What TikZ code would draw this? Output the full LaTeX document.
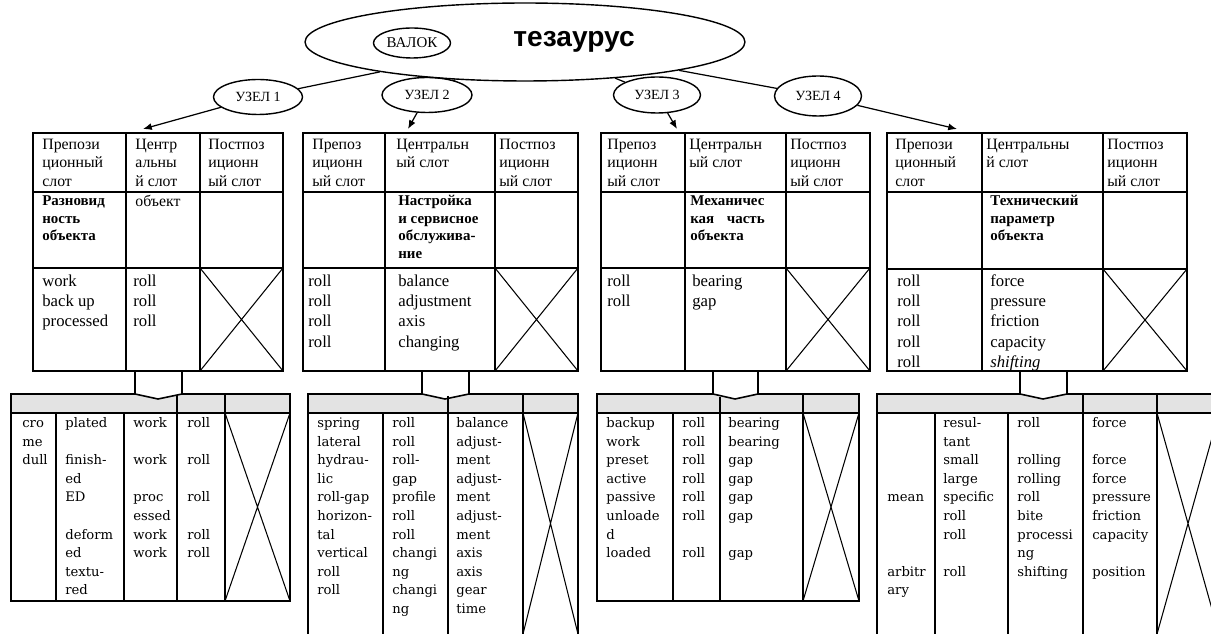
\documentclass[tikz,border=0pt]{standalone}
\usepackage{fontspec}
\setmainfont{Liberation Serif}
\newfontfamily\slabfont{DejaVu Serif}
\newfontfamily\headfont{Liberation Sans}
\usetikzlibrary{arrows.meta, shapes.geometric}
\tikzset{
    topic/.style={
        draw,
        ellipse,
        inner sep=0pt,
        line width=0.8pt,
        font=\fontsize{8}{9}\selectfont
    },
    slothead/.style={anchor=north west, inner sep=0pt, align=left, font=\fontsize{9}{10.5}\selectfont},
    slotbold/.style={anchor=north west, inner sep=0pt, align=left, font=\bfseries\fontsize{8.5}{10}\selectfont},
    slotword/.style={anchor=north west, inner sep=0pt, align=left, font=\fontsize{9.5}{11.5}\selectfont},
    lowword/.style={anchor=north west, inner sep=0pt, align=left, font=\slabfont\fontsize{7.5}{10.6}\selectfont},
    tabline/.style={line width=0.9pt},
    crossline/.style={line width=0.6pt},
    line/.style={-{Latex[length=5pt,width=4pt]}, line width=0.7pt},
    link/.style={line width=0.7pt}
}

\begin{document}
\begin{tikzpicture}[x=0.02cm, y=-0.02cm]
\useasboundingbox (0,0) rectangle (1211,634);
\clip (0,0) rectangle (1211,634);

% thesaurus
\node[topic, minimum width=8.8cm, minimum height=1.56cm] (thes) at (525,42) {};
\node[font=\headfont\bfseries\fontsize{16}{19}\selectfont, anchor=base, inner sep=0pt] (thesl) at (574,47) {тезаурус};
\node[topic, minimum width=1.54cm, minimum height=0.6cm, font=\fontsize{8.5}{10}\selectfont] (valok) at (412,43) {ВАЛОК};

\node[topic, minimum width=1.78cm, minimum height=0.7cm] (uz1) at (258,97) {УЗЕЛ 1};
\node[topic, minimum width=1.8cm, minimum height=0.7cm] (uz2) at (427,95) {УЗЕЛ 2};
\node[topic, minimum width=1.74cm, minimum height=0.72cm] (uz3) at (657,95) {УЗЕЛ 3};
\node[topic, minimum width=1.74cm, minimum height=0.8cm] (uz4) at (818,96) {УЗЕЛ 4};

\draw[link] (thes) -- (uz1);
\draw[link] (thes) -- (uz2);
\draw[link] (thes) -- (uz3);
\draw[link] (thes) -- (uz4);

\coordinate (t1in) at (143,129);
\coordinate (t2in) at (408,129);
\coordinate (t3in) at (677,129);
\coordinate (t4in) at (957,129);

\draw[line] (uz1) -- (t1in);
\draw[line] (uz2) -- (t2in);
\draw[line] (uz3) -- (t3in);
\draw[line] (uz4) -- (t4in);

% upper tables
\draw[tabline] (33,133) rectangle (283,371);
\draw[tabline] (126,133) -- (126,371) (200,133) -- (200,371);
\draw[tabline] (33,192) -- (283,192) (33,268) -- (283,268);
\draw[crossline] (200,268) -- (283,371) (283,268) -- (200,371);

\draw[tabline] (303,133) rectangle (578,371);
\draw[tabline] (385,133) -- (385,371) (495,133) -- (495,371);
\draw[tabline] (303,192) -- (578,192) (303,268) -- (578,268);
\draw[crossline] (495,268) -- (578,371) (578,268) -- (495,371);

\draw[tabline] (601,133) rectangle (870,371);
\draw[tabline] (685,133) -- (685,371) (786,133) -- (786,371);
\draw[tabline] (601,192) -- (870,192) (601,268) -- (870,268);
\draw[crossline] (786,268) -- (870,371) (870,268) -- (786,371);

\draw[tabline] (887,133) rectangle (1187,371);
\draw[tabline] (982,133) -- (982,371) (1103,133) -- (1103,371);
\draw[tabline] (887,192) -- (1187,192) (887,269) -- (1187,269);
\draw[crossline] (1103,269) -- (1187,371) (1187,269) -- (1103,371);

\node[slothead] (h11) at (42,136) {\strut Препози\\ционный\\слот};
\node[slothead] (h12) at (135,136) {\strut Центр\\альны\\й слот};
\node[slothead] (h13) at (208,136) {\strut Постпоз\\иционн\\ый слот};
\node[slotbold] (s11) at (42,193) {\strut Разновид\\ность\\объекта};
\node[slothead] (s12) at (135,193) {\strut объект};
\node[slotword] (w11) at (42,272) {\strut work\\back up\\processed};
\node[slotword] (w12) at (133,272) {\strut roll\\roll\\roll};

\node[slothead] (h21) at (312,136) {\strut Препоз\\иционн\\ый слот};
\node[slothead] (h22) at (396,136) {\strut Центральн\\ый слот};
\node[slothead] (h23) at (499,136) {\strut Постпоз\\иционн\\ый слот};
\node[slotbold] (s22) at (398,193) {\strut Настройка\\и сервисное\\обслужива-\\ние};
\node[slotword] (w21) at (308,272) {\strut roll\\roll\\roll\\roll};
\node[slotword] (w22) at (398,272) {\strut balance\\adjustment\\axis\\changing};

\node[slothead] (h31) at (607,136) {\strut Препоз\\иционн\\ый слот};
\node[slothead] (h32) at (689,136) {\strut Центральн\\ый слот};
\node[slothead] (h33) at (790,136) {\strut Постпоз\\иционн\\ый слот};
\node[slotbold] (s32) at (690,193) {\strut Механичес\\кая\hspace{0.6em} часть\\объекта};
\node[slotword] (w31) at (607,272) {\strut roll\\roll};
\node[slotword] (w32) at (692,272) {\strut bearing\\gap};

\node[slothead] (h41) at (895,136) {\strut Препози\\ционный\\слот};
\node[slothead] (h42) at (986,136) {\strut Центральны\\й слот};
\node[slothead] (h43) at (1107,136) {\strut Постпоз\\иционн\\ый слот};
\node[slotbold] (s42) at (990,193) {\strut Технический\\параметр\\объекта};
\node[slotword] (w41) at (897,272) {\strut roll\\roll\\roll\\roll\\roll};
\node[slotword] (w42) at (990,272) {\strut force\\pressure\\friction\\capacity\\\textit{shifting}};

% lower tables
\fill[gray!22] (11,394) -- (135,394) -- (158,399) -- (182,394) -- (290,394) -- (290,413) -- (11,413) -- cycle;
\draw[tabline] (135,371) -- (135,394) -- (158,399) -- (182,394) -- (182,371);
\draw[tabline] (135,394) -- (11,394) -- (11,601) -- (290,601) -- (290,394) -- (182,394);
\draw[tabline] (11,413) -- (290,413);
\draw[tabline] (177,395) -- (177,601) (225,394) -- (225,601);
\draw[tabline] (56,413) -- (56,601) (124,413) -- (124,601);
\draw[crossline] (225,413) -- (290,601) (290,413) -- (225,601);

\fill[gray!22] (308,394) -- (422,394) -- (445,399) -- (469,394) -- (578,394) -- (578,413) -- (308,413) -- cycle;
\draw[tabline] (422,371) -- (422,394) -- (445,399) -- (469,394) -- (469,371);
\draw[tabline] (422,394) -- (308,394) -- (308,640) (578,640) -- (578,394) -- (469,394);
\draw[tabline] (308,413) -- (578,413);
\draw[tabline] (448,396) -- (448,640) (523,394) -- (523,640);
\draw[tabline] (383,413) -- (383,640);
\draw[crossline] (523,413) -- (578,634) (578,413) -- (523,634);

\fill[gray!22] (597,394) -- (713,394) -- (735,399) -- (758,394) -- (859,394) -- (859,413) -- (597,413) -- cycle;
\draw[tabline] (713,371) -- (713,394) -- (735,399) -- (758,394) -- (758,371);
\draw[tabline] (713,394) -- (597,394) -- (597,601) -- (859,601) -- (859,394) -- (758,394);
\draw[tabline] (597,413) -- (859,413);
\draw[tabline] (720,397) -- (720,601) (803,394) -- (803,601);
\draw[tabline] (673,413) -- (673,601);
\draw[crossline] (803,413) -- (859,601) (859,413) -- (803,601);

\fill[gray!22] (877,394) -- (1020,394) -- (1043,399) -- (1067,394) -- (1220,394) -- (1220,413) -- (877,413) -- cycle;
\draw[tabline] (1020,371) -- (1020,394) -- (1043,399) -- (1067,394) -- (1067,371);
\draw[tabline] (1020,394) -- (877,394) -- (877,640) (1220,394) -- (1067,394);
\draw[tabline] (877,413) -- (1220,413);
\draw[tabline] (1083,394) -- (1083,640) (1157,394) -- (1157,640);
\draw[tabline] (935,413) -- (935,640) (1008,413) -- (1008,640);
\draw[crossline] (1157,413) -- (1219,634) (1219,413) -- (1157,634);

\node[lowword] (l11) at (22,414) {\strut cro\\me\\dull};
\node[lowword] (l12) at (65,414) {\strut plated\\~\\finish-\\ed\\ED\\~\\deform\\ed\\textu-\\red};
\node[lowword] (l13) at (133,414) {\strut work\\~\\work\\~\\proc\\essed\\work\\work};
\node[lowword] (l14) at (187,414) {\strut roll\\~\\roll\\~\\roll\\~\\roll\\roll};

\node[lowword] (l21) at (317,414) {\strut spring\\lateral\\hydrau-\\lic\\roll-gap\\horizon-\\tal\\vertical\\roll\\roll};
\node[lowword] (l22) at (392,414) {\strut roll\\roll\\roll-\\gap\\profile\\roll\\roll\\changi\\ng\\changi\\ng};
\node[lowword] (l23) at (456,414) {\strut balance\\adjust-\\ment\\adjust-\\ment\\adjust-\\ment\\axis\\axis\\gear\\time};

\node[lowword] (l31) at (606,414) {\strut backup\\work\\preset\\active\\passive\\unloade\\d\\loaded};
\node[lowword] (l32) at (682,414) {\strut roll\\roll\\roll\\roll\\roll\\roll\\~\\roll};
\node[lowword] (l33) at (728,414) {\strut bearing\\bearing\\gap\\gap\\gap\\gap\\~\\gap};

\node[lowword] (l41) at (887,414) {\strut~\\~\\~\\~\\mean\\~\\~\\~\\arbitr\\ary};
\node[lowword] (l42) at (943,414) {\strut resul-\\tant\\small\\large\\specific\\roll\\roll\\~\\roll};
\node[lowword] (l43) at (1017,414) {\strut roll\\~\\rolling\\rolling\\roll\\bite\\processi\\ng\\shifting};
\node[lowword] (l44) at (1092,414) {\strut force\\~\\force\\force\\pressure\\friction\\capacity\\~\\position};
\end{tikzpicture}
\end{document}
